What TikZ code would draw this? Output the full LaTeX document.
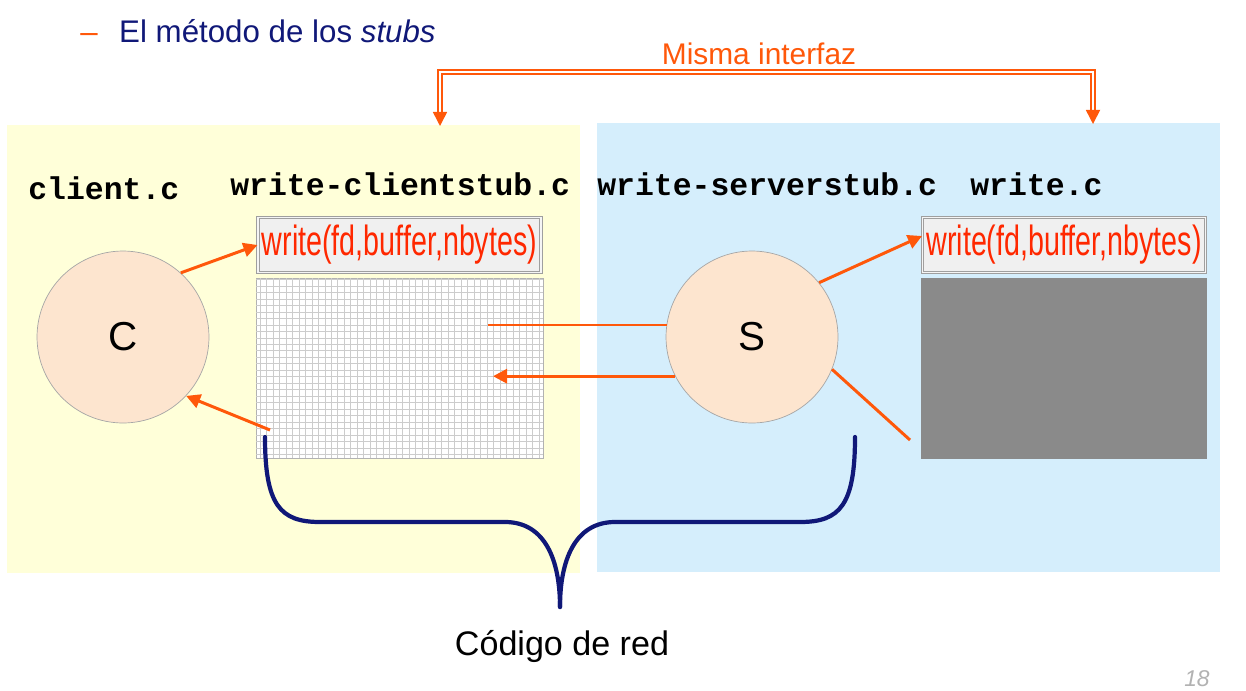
\documentclass[tikz,border=0pt]{standalone}
\usepackage{fontspec}
\setmainfont{Liberation Sans}
\newfontfamily\codefont{Liberation Mono}
\newfontfamily\callfont[FakeStretch=0.68]{Liberation Sans}
\usetikzlibrary{arrows.meta,positioning,calc}
\definecolor{linkorange}{RGB}{255,88,10}
\definecolor{callred}{RGB}{255,40,0}
\definecolor{navytext}{RGB}{16,24,120}
\definecolor{clientbg}{HTML}{FFFFD9}
\definecolor{serverbg}{HTML}{D5EEFC}
\definecolor{peach}{HTML}{FDE5CF}

\begin{document}
\begin{tikzpicture}[x=0.02cm,y=-0.02cm,
  panel/.style={inner sep=0pt,outer sep=0pt},
  filename/.style={font=\codefont\bfseries\fontsize{17.9}{20}\selectfont,anchor=base west,inner sep=0pt},
  callbox/.style={draw=gray!75,double=gray!8,double distance=0.9pt,line width=0.6pt,fill=gray!12,
    minimum width=5.66cm,minimum height=1.1cm,inner sep=0pt,text=callred,
    font=\callfont\fontsize{24}{25}\selectfont},
  process/.style={circle,draw=gray!70,fill=peach,minimum size=3.44cm,inner sep=0pt,
    font=\fontsize{23}{24}\selectfont},
  line/.style={draw=linkorange,line width=1.7pt},
  flow/.style={line,-{Triangle[length=8pt,width=8pt]}},
  iface/.style={draw=linkorange,double=white,line width=0.9pt,double distance=1.3pt,
    {Triangle[length=8pt,width=8pt]}-{Triangle[length=8pt,width=8pt]}},
  brace/.style={draw=navytext,line width=2.4pt,line cap=round}]
\path[use as bounding box,fill=white] (0,0) rectangle (1246,690);
\node[panel,fill=clientbg,minimum width=11.46cm,minimum height=8.96cm] (clientpanel) at (293.5,349) {};
\node[panel,fill=serverbg,minimum width=12.46cm,minimum height=8.98cm] (serverpanel) at (908.5,347.5) {};
\node[anchor=base west,inner sep=0pt,font=\fontsize{17.8}{20}\selectfont,text=navytext] (title) at (80,42)
  {\textcolor{linkorange}{–}\hspace{0.43cm}El método de los \textit{stubs}};
\node[anchor=base,inner sep=0pt,text=linkorange,font=\fontsize{17}{20}\selectfont] (ifacelabel) at (759,64) {Misma interfaz};
\node[filename] (clientfile) at (28,199) {client.c};
\node[filename] (cstubfile) at (230,195) {write-clientstub.c};
\node[filename] (sstubfile) at (597,195) {write-serverstub.c};
\node[filename] (writefile) at (970,195) {write.c};
\node[callbox] (clienthead) at (399.5,245) {write(fd,buffer,nbytes)};
\node[panel,draw=gray!60,fill=white,minimum width=5.74cm,minimum height=3.6cm,below=1mm of clienthead] (stubgrid) {};
\draw[gray!40,line width=0.5pt,step=1.3mm] (stubgrid.south west) grid (stubgrid.north east);
\node[callbox] (serverhead) at (1064,245) {write(fd,buffer,nbytes)};
\node[panel,fill=black!46,minimum width=5.74cm,minimum height=3.62cm,below=1mm of serverhead] (writebody) {};
\node[process] (clientC) at (123,337) {C};
\node[process] (serverS) at (752,337) {S};
\coordinate (callin) at (488,323);
\coordinate (replyin) at (493,378);
\coordinate (replyout) at (270,430);
\coordinate (bodyin) at (910,440);
\coordinate (ifaceL) at (440,126);
\coordinate (ifaceR) at (1093,124);
\coordinate (braceL) at (265,437);
\coordinate (braceR) at (855,437);
\coordinate (bracetip) at (560,607);
\draw[flow] (clientC.48) -- (clienthead.west);
\draw[flow] (replyout) -- (clientC.-43);
\draw[line] (serverS.172) -- (serverS.172 -| callin);
\draw[flow] (serverS.207) -- (serverS.207 -| replyin);
\draw[flow] (serverS.39) -- ($(serverhead.west)+(0,-9)$);
\draw[line] (serverS.-22) -- (bodyin);
\draw[iface] (ifaceL) -- ++(0,-54) -| (ifaceR);
\draw[brace] (braceL) .. controls (265,505) and (280,522) .. (320,522) -- (505,522)
  .. controls (545,522) and (560,560) .. (bracetip);
\draw[brace] (braceR) .. controls (855,505) and (840,522) .. (800,522) -- (615,522)
  .. controls (575,522) and (560,560) .. (bracetip);
\node[anchor=base,inner sep=0pt,font=\fontsize{19.4}{22}\selectfont] (netcode) at (562,655) {Código de red};
\node[anchor=base east,inner sep=0pt,text=gray!60,font=\itshape\fontsize{13}{15}\selectfont] (pagenum) at (1210,686) {18};
\end{tikzpicture}
\end{document}
